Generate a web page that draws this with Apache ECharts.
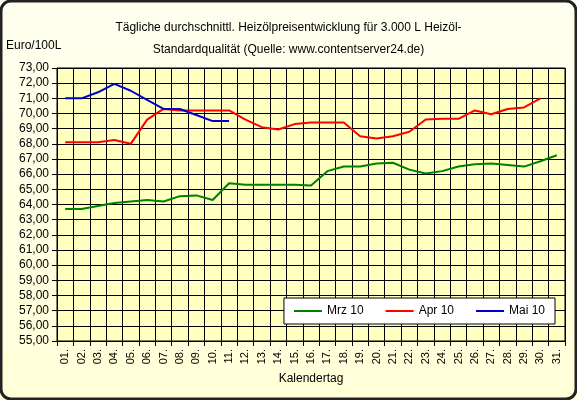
<!DOCTYPE html>
<html><head><meta charset="utf-8">
<script src="https://cdn.jsdelivr.net/npm/echarts@6/dist/echarts.min.js"></script>
<style>html,body{margin:0;padding:0;background:#000;}#c{width:577px;height:400px;}</style>
</head><body><div id="c"></div>
<script>
const days = ['01.','02.','03.','04.','05.','06.','07.','08.','09.','10.','11.','12.','13.','14.','15.','16.','17.','18.','19.','20.','21.','22.','23.','24.','25.','26.','27.','28.','29.','30.','31.'];
const mrz10 = [63.7,63.7,63.9,64.1,64.2,64.3,64.2,64.55,64.6,64.3,65.4,65.3,65.3,65.3,65.3,65.25,66.2,66.5,66.5,66.7,66.75,66.3,66.05,66.2,66.5,66.65,66.7,66.6,66.5,66.85,67.25];
const apr10 = [68.1,68.1,68.1,68.25,68.0,69.6,70.3,70.2,70.2,70.2,70.2,69.6,69.1,68.95,69.3,69.4,69.4,69.4,68.5,68.35,68.5,68.8,69.6,69.65,69.65,70.2,69.95,70.3,70.4,71.0];
const mai10 = [71.0,71.0,71.4,71.95,71.5,70.9,70.3,70.3,69.9,69.5,69.5];
const chart = echarts.init(document.getElementById('c'));
const ff = 'Liberation Sans, Arial, sans-serif';
chart.setOption({
  backgroundColor: {type:'linear',x:0,y:0,x2:0,y2:1,colorStops:[{offset:0,color:'#fffff0'},{offset:1,color:'#ffffd8'}]},
  animation:false,
  title:{text:'Tägliche durchschnittl. Heizölpreisentwicklung für 3.000 L Heizöl-\nStandardqualität (Quelle: www.contentserver24.de)',left:'center',top:12,
    textStyle:{fontFamily:ff,fontSize:12,fontWeight:'normal',color:'#000',lineHeight:22}},
  graphic:[{type:'rect',shape:{x:1,y:1,width:575,height:398,r:10},style:{fill:'none',stroke:'#222',lineWidth:3}},
           {type:'text',left:6,top:40,style:{text:'Euro/100L',font:'12px Liberation Sans',fill:'#000'}}],
  legend:{right:22,top:298,orient:'horizontal',itemWidth:28,itemHeight:2,itemGap:22,icon:'rect',
    backgroundColor:'#ffffff',borderColor:'#000',borderWidth:1,padding:[7,10],
    textStyle:{fontFamily:ff,fontSize:12,color:'#000'}},
  grid:{left:57,right:12,top:68,bottom:59,backgroundColor:'#ffffc0',show:true,borderColor:'#000',borderWidth:1},
  xAxis:{type:'category',data:days,boundaryGap:true,name:'Kalendertag',nameLocation:'middle',nameGap:31,
    nameTextStyle:{fontFamily:ff,fontSize:12,color:'#000'},
    axisLine:{lineStyle:{color:'#000'}},axisTick:{show:true,alignWithLabel:false,lineStyle:{color:'#000'}},
    axisLabel:{rotate:90,interval:0,fontFamily:ff,fontSize:11,color:'#000'},
    splitLine:{show:true,lineStyle:{color:'#000',width:1}}},
  yAxis:{type:'value',min:55,max:73,interval:1,
    axisLine:{show:true,lineStyle:{color:'#000'}},axisTick:{show:true,lineStyle:{color:'#000'}},
    axisLabel:{fontFamily:ff,fontSize:12,color:'#000',formatter:v=>v.toFixed(2).replace('.',',')},
    splitLine:{lineStyle:{color:'#000',width:1}}},
  series:[
    {name:'Mrz 10',type:'line',data:mrz10,showSymbol:false,lineStyle:{color:'#008000',width:2},itemStyle:{color:'#008000'}},
    {name:'Apr 10',type:'line',data:apr10,showSymbol:false,lineStyle:{color:'#ff0000',width:2},itemStyle:{color:'#ff0000'}},
    {name:'Mai 10',type:'line',data:mai10,showSymbol:false,lineStyle:{color:'#0000cc',width:2},itemStyle:{color:'#0000cc'}}
  ]
});
</script></body></html>
